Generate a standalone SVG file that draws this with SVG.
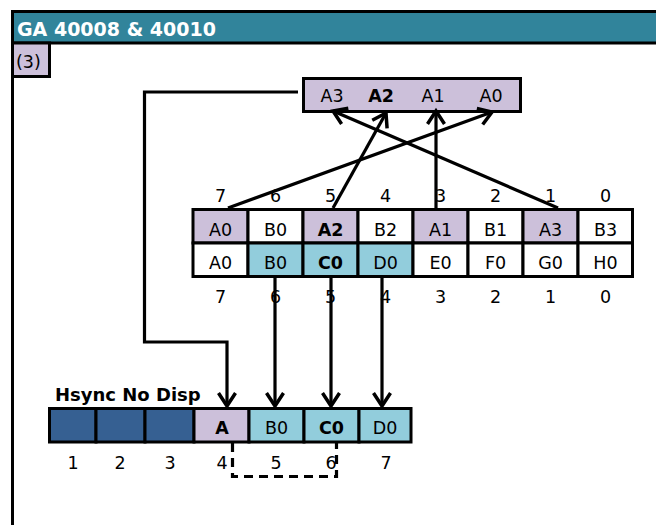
<svg xmlns="http://www.w3.org/2000/svg" width="656" height="525" viewBox="0 0 656 525">
<style>
.t{font-family:"DejaVu Sans","Liberation Sans",sans-serif;font-size:17.5px;fill:#000;text-anchor:middle}
.b{font-weight:bold}
.cell{stroke:#000;stroke-width:3}
.lav{fill:#CCC0DA}
.blu{fill:#92CDDC}
.dk{fill:#366092}
.wh{fill:#FFFFFF}
.ln{fill:none;stroke:#000;stroke-width:3.2}
</style>
<defs>
<marker id="ah" markerUnits="userSpaceOnUse" markerWidth="34" markerHeight="34" viewBox="-17 -17 34 34" refX="0" refY="0" orient="auto" overflow="visible">
<path d="M-13,-8.5 L0,0 L-13,8.5" fill="none" stroke="#000" stroke-width="3.5" stroke-linejoin="miter"/>
</marker>
</defs>
<rect width="656" height="525" fill="#fff"/>
<g id="frame">
<rect x="12.5" y="11.5" width="700" height="600" fill="#fff" stroke="#000" stroke-width="3"/>
<rect x="12.5" y="11.5" width="700" height="31.5" fill="#31849B" stroke="#000" stroke-width="3"/>
<text x="17" y="36" class="t b" style="text-anchor:start;fill:#fff;font-size:19px">GA 40008 &amp; 40010</text>
</g>
<g id="step">
<rect x="12.5" y="43" width="37" height="33.5" class="cell lav"/>
<text x="16" y="68" class="t" style="text-anchor:start">(3)</text>
</g>
<g id="topbox">
<rect x="303.5" y="78.5" width="217" height="33" class="cell lav"/>
<text x="332" y="102" class="t">A3</text>
<text x="381" y="102" class="t b">A2</text>
<text x="433" y="102" class="t">A1</text>
<text x="491" y="102" class="t">A0</text>
</g>
<g id="table">
<rect x="193" y="209.5" width="55" height="33.5" class="cell lav"/>
<rect x="248" y="209.5" width="55" height="33.5" class="cell wh"/>
<rect x="303" y="209.5" width="55" height="33.5" class="cell lav"/>
<rect x="358" y="209.5" width="55" height="33.5" class="cell wh"/>
<rect x="413" y="209.5" width="55" height="33.5" class="cell lav"/>
<rect x="468" y="209.5" width="55" height="33.5" class="cell wh"/>
<rect x="523" y="209.5" width="55" height="33.5" class="cell lav"/>
<rect x="578" y="209.5" width="54.5" height="33.5" class="cell wh"/>
<rect x="193" y="243" width="55" height="33.5" class="cell wh"/>
<rect x="248" y="243" width="55" height="33.5" class="cell blu"/>
<rect x="303" y="243" width="55" height="33.5" class="cell blu"/>
<rect x="358" y="243" width="55" height="33.5" class="cell blu"/>
<rect x="413" y="243" width="55" height="33.5" class="cell wh"/>
<rect x="468" y="243" width="55" height="33.5" class="cell wh"/>
<rect x="523" y="243" width="55" height="33.5" class="cell wh"/>
<rect x="578" y="243" width="54.5" height="33.5" class="cell wh"/>
<text x="220.5" y="236" class="t">A0</text>
<text x="275.5" y="236" class="t">B0</text>
<text x="330.5" y="236" class="t b">A2</text>
<text x="385.5" y="236" class="t">B2</text>
<text x="440.5" y="236" class="t">A1</text>
<text x="495.5" y="236" class="t">B1</text>
<text x="550.5" y="236" class="t">A3</text>
<text x="605.5" y="236" class="t">B3</text>
<text x="220.5" y="269" class="t">A0</text>
<text x="275.5" y="269" class="t">B0</text>
<text x="330.5" y="269" class="t b">C0</text>
<text x="385.5" y="269" class="t">D0</text>
<text x="440.5" y="269" class="t">E0</text>
<text x="495.5" y="269" class="t">F0</text>
<text x="550.5" y="269" class="t">G0</text>
<text x="605.5" y="269" class="t">H0</text>
<text x="220.5" y="202" class="t">7</text>
<text x="275.5" y="202" class="t">6</text>
<text x="330.5" y="202" class="t">5</text>
<text x="385.5" y="202" class="t">4</text>
<text x="440.5" y="202" class="t">3</text>
<text x="495.5" y="202" class="t">2</text>
<text x="550.5" y="202" class="t">1</text>
<text x="605.5" y="202" class="t">0</text>
<text x="220.5" y="303" class="t">7</text>
<text x="275.5" y="303" class="t">6</text>
<text x="330.5" y="303" class="t">5</text>
<text x="385.5" y="303" class="t">4</text>
<text x="440.5" y="303" class="t">3</text>
<text x="495.5" y="303" class="t">2</text>
<text x="550.5" y="303" class="t">1</text>
<text x="605.5" y="303" class="t">0</text>
</g>
<g id="output">
<text x="55" y="401" class="t b" style="text-anchor:start;font-size:18px">Hsync No Disp</text>
<rect x="49.5" y="408.5" width="46.5" height="33.5" class="cell dk"/>
<rect x="96" y="408.5" width="49" height="33.5" class="cell dk"/>
<rect x="145" y="408.5" width="49" height="33.5" class="cell dk"/>
<rect x="194" y="408.5" width="55" height="33.5" class="cell lav"/>
<rect x="249" y="408.5" width="55" height="33.5" class="cell blu"/>
<rect x="304" y="408.5" width="55" height="33.5" class="cell blu"/>
<rect x="359" y="408.5" width="52" height="33.5" class="cell blu"/>
<text x="222" y="434" class="t b">A</text>
<text x="276.5" y="434" class="t">B0</text>
<text x="331.5" y="434" class="t b">C0</text>
<text x="385" y="434" class="t">D0</text>
<text x="73" y="469" class="t">1</text>
<text x="120" y="469" class="t">2</text>
<text x="170" y="469" class="t">3</text>
<text x="222" y="469" class="t">4</text>
<text x="276" y="469" class="t">5</text>
<text x="331" y="469" class="t">6</text>
<text x="386" y="469" class="t">7</text>
</g>
<g id="connectors">
<path class="ln" d="M298,92 L144.5,92 L144.5,342 L227,342 L227,406" marker-end="url(#ah)"/>
<line class="ln" x1="228" y1="208" x2="492" y2="112" marker-end="url(#ah)"/>
<line class="ln" x1="333" y1="208" x2="386" y2="113" marker-end="url(#ah)"/>
<line class="ln" x1="436" y1="208" x2="436" y2="111" marker-end="url(#ah)"/>
<line class="ln" x1="558" y1="208" x2="333" y2="111" marker-end="url(#ah)"/>
<line class="ln" x1="275" y1="277" x2="275" y2="406" marker-end="url(#ah)"/>
<line class="ln" x1="331" y1="277" x2="331" y2="406" marker-end="url(#ah)"/>
<line class="ln" x1="382" y1="277" x2="382" y2="406" marker-end="url(#ah)"/>
<path class="ln" d="M232.5,443 L232.5,476.5 L336.5,476.5 L336.5,443" stroke-dasharray="9,6"/>
</g>
</svg>
